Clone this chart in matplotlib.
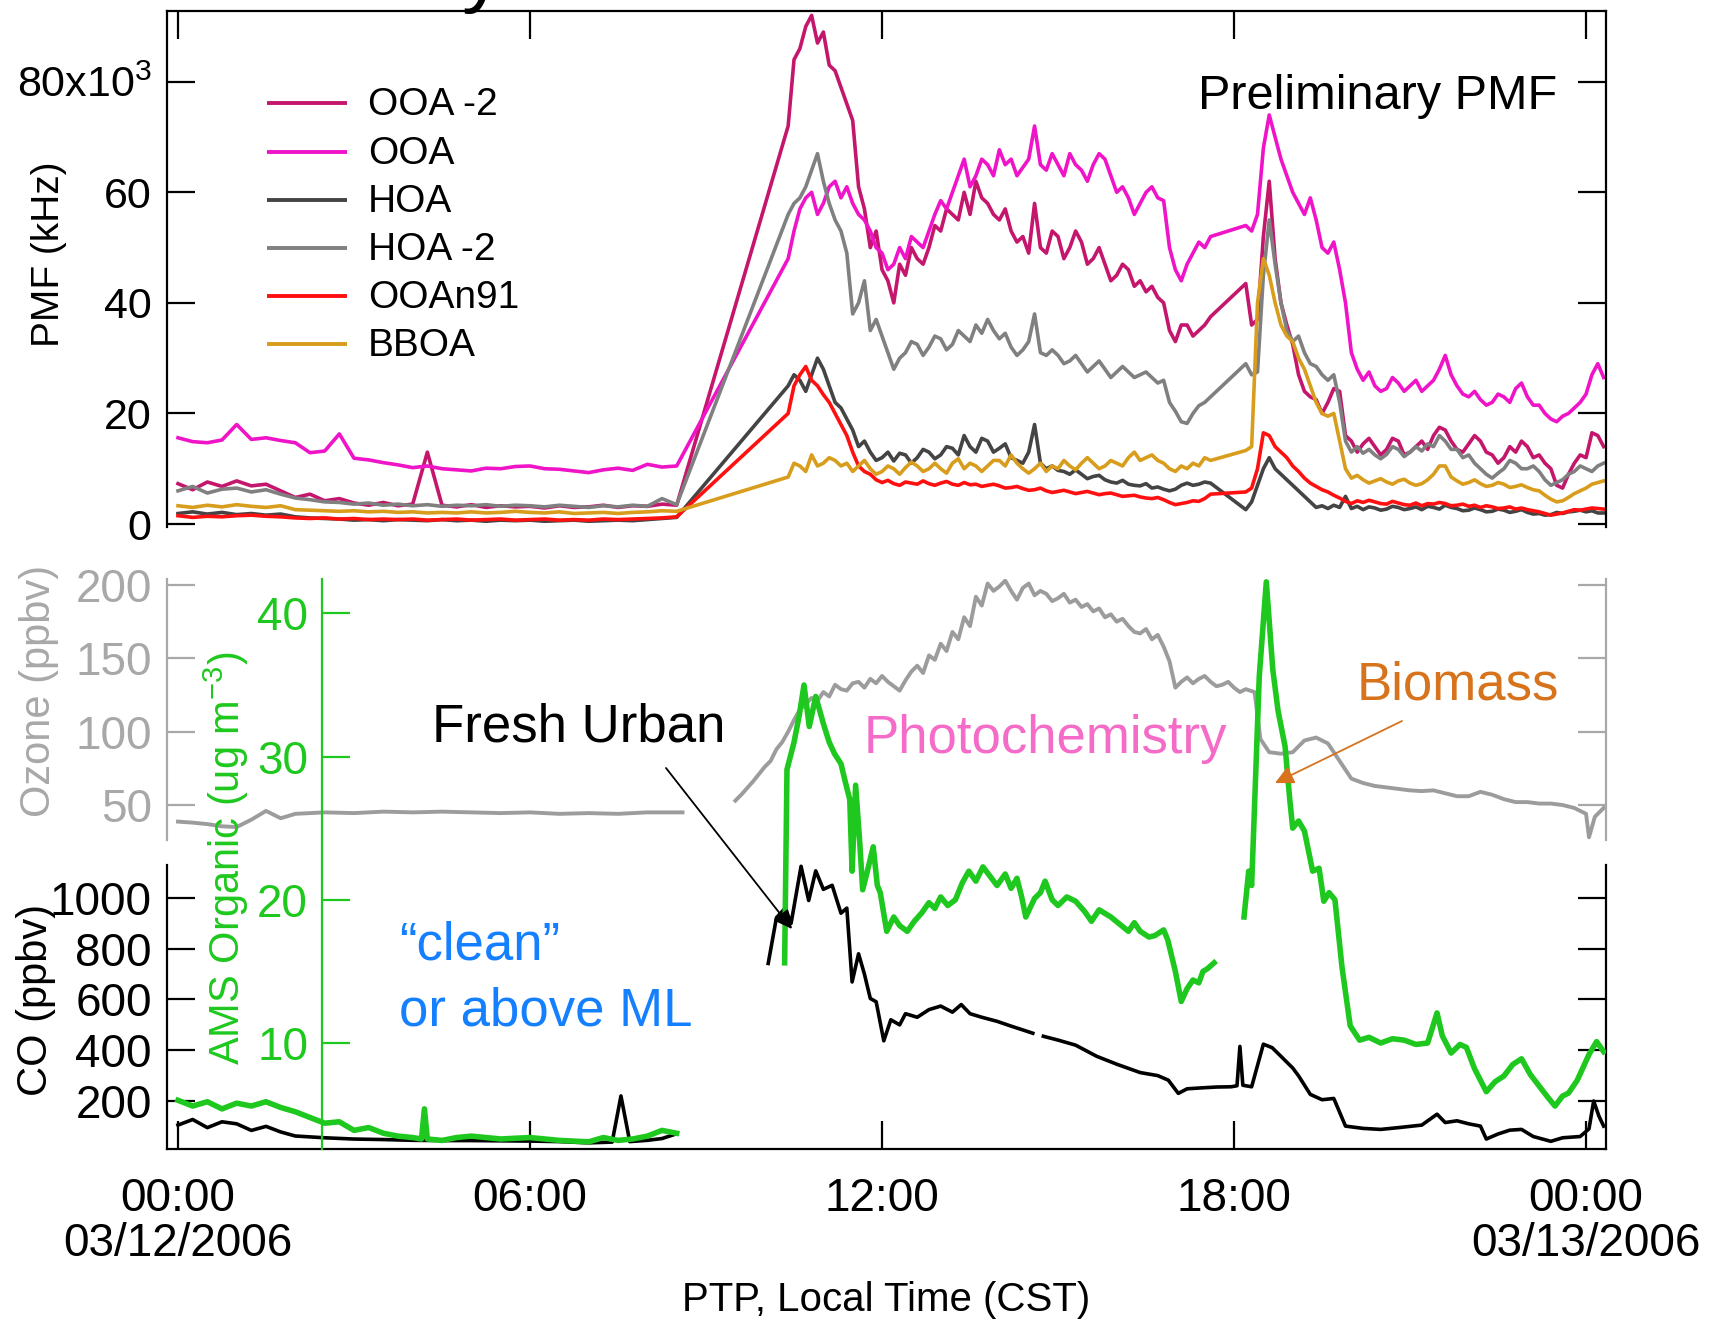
import numpy as np
import matplotlib

matplotlib.use("Agg")
import matplotlib.pyplot as plt

plt.rcParams["font.family"] = ["Liberation Sans", "DejaVu Sans"]
plt.rcParams["mathtext.default"] = "regular"

nan = np.nan
W, H = 1713, 1319  # output size in pixels (dpi 100)

# ---------------------------------------------------------------- top panel
# PMF factors (kHz, plotted in units of 10^3) on a common time grid (hours CST)
night_hr = np.round(np.arange(0.0, 8.51, 0.25), 2)
day_hr = np.round(np.r_[np.arange(10.4, 17.61, 0.1), np.arange(18.2, 24.21, 0.1), 24.3], 2)
pmf_hr = np.r_[night_hr, day_hr]

pmf_names = ["OOA -2", "OOA", "HOA", "HOA -2", "OOAn91", "BBOA"]
pmf_colors = ["#c4166c", "#f014c8", "#444444", "#808080", "#ff1010", "#d89d1c"]

ooa2_night = [7.3, 6.2, 7.6, 6.8, 7.8, 6.9, 7.2, 6.0, 4.8, 5.4, 4.2, 4.6, 3.8, 3.4, 3.9, 3.3, 3.6, 13.0,
              3.4, 3.1, 3.5, 3.0, 3.3, 3.1, 3.2, 2.9, 3.3, 3.0, 3.1, 3.4, 3.0, 3.3, 3.2, 3.6, 3.4]
ooa2_day = [72, 84, 86, 90, 92, 87, 89, 83, 82, 79, 76, 73, 61, 57, 50, 53, 46, 44, 40, 47,
            45, 50, 48, 47, 50, 54, 53, 57, 56, 55, 60, 56, 62, 59, 58, 56, 55, 57, 53, 51,
            52, 49, 58, 50, 49, 53, 52, 48, 50, 53, 51, 47, 48, 50, 47, 44, 45, 47, 46, 43,
            44, 42, 43, 41, 40, 35, 33, 36, 36, 34, 35, 36, 37.5,
            43.5, 36, 37, 52, 62, 48, 40, 36, 32.5, 27, 24, 23, 22.5, 20, 22, 24.5, 24, 16, 15, 13,
            14.5, 15.5, 14, 12.5, 13.5, 15.5, 15, 12.5, 13, 14, 15, 13.5, 16, 17.5, 17, 15, 13.5, 13,
            14.5, 16, 15, 13, 12.5, 11, 12, 14, 13, 15, 14, 12, 12.5, 11, 10, 7, 6.5, 9, 11, 12.5,
            12, 16.5, 16, 14]

ooa_night = [15.6, 14.9, 14.7, 15.2, 18.0, 15.3, 15.6, 15.1, 14.7, 12.9, 13.2, 16.3, 11.9, 11.6, 11.1,
             10.7, 10.2, 10.5, 10.0, 9.8, 9.6, 10.1, 10.0, 10.4, 10.5, 10.0, 9.9, 9.6, 9.3, 9.8, 10.1,
             9.7, 10.8, 10.3, 10.5]
ooa_day = [48, 53, 57, 59, 60, 56, 58, 61, 62, 59, 61, 58, 56, 55, 53, 50, 49, 46, 47, 50,
           48, 52, 51, 50, 53, 56, 58.5, 57, 60, 63, 66, 61, 63, 66, 65, 63, 67.7, 65, 66, 63,
           64.5, 66, 72, 65, 64, 67, 65, 63, 67, 65, 64, 62, 65, 67, 66, 63, 60, 61, 59, 56,
           58, 60, 61, 59, 58.5, 50, 46, 44, 47, 49, 51, 50, 52,
           54, 53, 56, 68, 74, 70, 66, 63, 60, 58, 56, 59, 55, 50, 49, 51, 46, 40, 31, 28,
           26, 27.5, 25, 24, 24.5, 26.5, 25.5, 24, 25, 26, 24, 25, 26, 28, 30.5, 27, 25, 23.5, 23, 24,
           22.5, 21.5, 22, 23.5, 23, 22, 24.5, 25.5, 23, 21.5, 21.5, 20, 19, 18.5, 19.5, 20, 21, 22,
           23.5, 27, 29, 26.5]

hoa_night = [1.9, 2.2, 1.8, 2.1, 1.7, 1.9, 1.6, 1.8, 1.3, 1.1, 1.0, 0.9, 0.7, 0.8, 0.6, 0.8, 0.7, 0.6,
             0.8, 0.6, 0.7, 0.5, 0.7, 0.6, 0.7, 0.5, 0.6, 0.7, 0.5, 0.6, 0.7, 0.6, 0.8, 1.0, 1.2]
hoa_day = [25, 27, 26, 24, 27, 30, 28, 25, 22, 21, 19, 17, 14, 15, 13, 11.5, 12, 13, 11.4, 12.8,
           12.5, 11, 12, 13.5, 13, 11.8, 12.5, 14, 13.7, 12.5, 16, 14, 13, 15.5, 15, 13, 13.7, 14.5, 12, 11.5,
           11, 13, 18, 11, 10, 10.5, 9.7, 9.5, 9, 9.8, 9, 8.2, 8.6, 8.8, 8, 7.6, 7.4, 7.9, 7.2, 7.0,
           6.9, 7.3, 6.5, 6.7, 6.3, 6.0, 6.3, 7.0, 7.4, 7.0, 7.2, 7.6, 7.4,
           2.6, 4, 7, 10, 12, 10, 9, 8, 7, 6, 5, 4, 3, 3.3, 2.8, 3.4, 3, 5, 2.8, 3.2,
           2.6, 3.1, 2.9, 2.5, 2.7, 3.2, 3, 2.6, 2.8, 3.1, 2.6, 3.2, 3, 2.7, 3.4, 3.0, 2.8, 2.4, 2.5, 2.9,
           2.6, 2.2, 2.3, 2.7, 2.5, 2.1, 2.3, 2.6, 2.1, 1.8, 1.9, 1.6, 1.7, 2.1, 1.9, 2.2, 2.3, 2.5,
           2.2, 2.4, 2.0, 2.0]

hoa2_night = [6.0, 6.8, 5.6, 6.3, 6.5, 5.8, 6.2, 5.4, 4.7, 4.4, 4.0, 3.9, 3.6, 3.8, 3.4, 3.6, 3.3, 3.5,
              3.2, 3.4, 3.3, 3.5, 3.2, 3.4, 3.3, 3.1, 3.4, 3.2, 3.0, 3.3, 3.1, 3.4, 3.2, 4.6, 3.5]
hoa2_day = [56, 58, 59, 61, 64, 67, 62, 58, 55, 53, 49, 38, 40, 44, 35, 37, 34, 31, 28, 30,
            31, 33, 32.5, 30.5, 32, 34, 33.5, 31.5, 32.5, 35, 34, 33, 36, 34.5, 37, 35, 33.5, 34.5, 32, 30.5,
            31.5, 33, 38, 31, 30.5, 31.5, 30.5, 29, 29.5, 30.5, 29, 27.5, 28.5, 29.5, 28, 26.5, 27.5, 28.5,
            27.5, 26.5, 27, 27.5, 26.5, 25.5, 26, 22, 20.4, 18.5, 18.2, 20, 21.4, 22, 23,
            29, 27, 27.5, 45, 55, 47, 40, 35, 33, 34, 31, 29, 28.5, 27, 26, 27, 22, 15, 13, 14,
            12.8, 13.5, 12.5, 11.8, 12.6, 14, 13.5, 12.2, 13, 14, 13.2, 14.5, 14, 16, 15, 13.5, 13.5, 12,
            12.5, 11, 10, 9, 8.3, 9.2, 10, 11.5, 11, 10, 10, 10.5, 9.5, 8, 7, 7.5, 8, 9, 9.5, 10.5,
            10, 9.5, 10.5, 11]

ooan91_night = [1.5, 1.2, 1.4, 1.3, 1.5, 1.6, 1.4, 1.3, 1.1, 1.0, 1.1, 0.9, 1.0, 0.8, 0.9, 0.8, 0.9,
                0.7, 0.8, 0.9, 0.7, 0.8, 0.9, 0.7, 0.8, 0.9, 0.7, 0.8, 0.7, 0.9, 0.8, 0.9, 1.0, 1.1, 1.3]
ooan91_day = [20, 25, 27, 28.5, 26, 25, 23.4, 22, 20, 18, 16, 13, 10.5, 9.5, 9, 8, 7.5, 7.9, 7.3, 7.0,
              7.6, 7.4, 7.2, 7.8, 7.3, 7.0, 7.4, 7.7, 7.2, 7.0, 7.5, 7.1, 7.2, 6.8, 7, 7.2, 6.9, 6.5,
              6.6, 6.8, 6.4, 6.1, 6.2, 6.5, 6, 5.7, 5.9, 6.1, 5.8, 5.5, 5.7, 5.9, 5.6, 5.3, 5.5, 5.6,
              5.3, 5.0, 5.1, 5.2, 4.9, 4.7, 4.6, 4.8, 4.4, 3.9, 3.5, 3.7, 3.9, 4.2, 4.1, 4.6, 5.4,
              5.8, 6.5, 10, 16.5, 16, 14, 13, 12, 10.5, 9.5, 8.3, 7.4, 6.8, 6.2, 5.8, 5.2, 4.7, 4.1,
              3.7, 4.2, 3.9, 4.3, 4.0, 3.7, 3.6, 4.1, 3.8, 3.5, 3.4, 3.8, 3.3, 3.7, 3.6, 3.9, 3.7, 3.3,
              3.4, 3.6, 3.2, 3.4, 3.0, 3.3, 3.1, 2.8, 2.9, 3.1, 2.7, 2.9, 2.6, 2.4, 2.2, 1.9, 1.6, 1.8,
              2.0, 2.3, 2.6, 2.5, 2.7, 2.9, 2.8, 2.7]

bboa_night = [3.3, 3.0, 3.4, 3.1, 3.5, 3.2, 3.0, 3.3, 2.6, 2.5, 2.4, 2.3, 2.4, 2.2, 2.3, 2.1, 2.2, 2.0,
              2.1, 2.0, 2.2, 2.0, 2.1, 2.3, 2.1, 2.0, 2.2, 1.9, 2.0, 2.1, 1.9, 2.1, 2.2, 2.4, 2.3]
bboa_day = [8.5, 11, 10.5, 9.5, 12.5, 10.5, 11, 12, 11.5, 10.5, 11, 9.5, 10.5, 11.5, 10, 9, 9.5, 10.5,
            10, 9, 10.2, 11.2, 10.5, 9.5, 10, 11, 10, 9.2, 11, 11.8, 10, 11, 10.5, 9.5, 10.5, 11.5,
            11.5, 10.5, 12.5, 11, 10, 9.2, 10, 11, 9.5, 10.5, 10, 11.5, 10.5, 9.8, 11, 12, 11, 10,
            10.5, 11.5, 11, 10.5, 12, 13, 11.5, 12, 12.5, 11.5, 11, 10, 9.5, 10.5, 10, 11, 10.5, 12, 11.5,
            13.3, 14, 40, 48, 45, 40, 36, 34, 33, 30, 28, 25, 22, 20, 19.5, 20, 15, 10, 8.3, 8.8,
            8, 7.4, 7.8, 8.2, 7.6, 7.2, 7.8, 8.1, 7.4, 7.0, 7.3, 8, 9, 10.5, 10.5, 8.5, 7.8, 7.2, 7.5,
            8, 7.3, 6.8, 7.0, 7.5, 7.2, 6.6, 6.8, 7.1, 6.6, 6.2, 6.0, 5.2, 4.5, 4.0, 4.2, 4.8, 5.5,
            6.0, 6.5, 7.2, 7.5, 7.8]

pmf_series = [ooa2_night + ooa2_day, ooa_night + ooa_day, hoa_night + hoa_day,
              hoa2_night + hoa2_day, ooan91_night + ooan91_day, bboa_night + bboa_day]

# ------------------------------------------------------------- bottom panel
o3_hr = np.r_[[0, 0.25, 0.5, 0.75, 1.0, 1.25, 1.5, 1.75, 2.0, 2.5, 3.0, 3.5, 4.0, 4.5, 5.0, 5.5, 6.0,
               6.5, 7.0, 7.5, 8.0, 8.6, 9.0, 9.5, 9.6, 9.8],
              np.round(np.arange(10.0, 18.21, 0.1), 2),
              [18.35, 18.45, 18.6, 18.8, 19.0, 19.2, 19.4, 19.6, 19.8, 20.0, 20.2, 20.4, 20.6, 20.8,
               21.0, 21.2, 21.4, 21.6, 21.8, 22.0, 22.2, 22.4, 22.6, 22.8, 23.0, 23.2, 23.4, 23.6, 23.8,
               24.0, 24.05, 24.15, 24.3]]
o3_ppb = [38.7, 38, 37, 35.5, 35, 40, 46, 41, 44, 45, 44.5, 45.5, 45, 45.5, 45, 44.5, 45, 44, 44.5, 44,
          45, 45, nan, 53, 57, 66,
          76, 80, 88, 93, 100, 108, 115, 119, 123, 121, 127, 124, 132, 129, 128, 133, 134, 130, 136, 133,
          138, 134, 131, 128, 135, 141, 145, 140, 152, 149, 160, 155, 168, 163, 178, 172, 192, 186, 201, 196,
          199, 203, 196, 190, 198, 201, 193, 196, 194, 189, 191, 194, 188, 190, 185, 187, 182, 184, 178, 180,
          175, 177, 172, 168, 167, 170, 163, 166, 158, 148, 130, 134, 137, 133, 136, 138, 134, 131, 132, 134,
          130, 127, 129,
          127, 95, 86, 85, 86, 94, 96, 92, 80, 68, 65, 63, 62, 61, 60, 59.5, 60, 58, 56, 56, 59, 57, 54,
          52, 52, 51, 51, 50, 48, 44, 28, 42, 48]

co_hr = [0, 0.25, 0.5, 0.75, 1.0, 1.25, 1.5, 1.75, 2.0, 2.5, 3.0, 3.5, 4.0, 4.5, 5.0, 5.5, 6.0, 6.5,
         7.0, 7.4, 7.55, 7.7, 8.0, 8.25, 8.5, 9.0,
         10.06, 10.2, 10.35, 10.45, 10.62, 10.75, 10.87, 11.0, 11.15, 11.3, 11.4, 11.49, 11.6, 11.7,
         11.8, 11.9, 12.03, 12.15, 12.3, 12.4, 12.6, 12.8, 13.0, 13.2, 13.35, 13.5, 13.7, 13.96, 14.2,
         14.4, 14.57, 14.66,
         14.75, 15.0, 15.3, 15.66, 16.0, 16.4, 16.7, 16.88, 17.05, 17.2, 17.47, 17.7, 17.95, 18.05, 18.1,
         18.15, 18.3, 18.5, 18.65, 18.8, 19.0, 19.1, 19.3, 19.5, 19.7, 19.9, 20.2, 20.5, 20.8, 21.0,
         21.2, 21.46, 21.6, 21.8, 22.0, 22.2, 22.3, 22.5, 22.7, 22.9, 23.1, 23.4, 23.6, 23.9, 24.05,
         24.13, 24.22, 24.3]
co_ppb = [105, 127, 95, 118, 110, 84, 100, 78, 62, 55, 50, 48, 45, 44, 44, 43, 42, 40, 35, 38, 220, 40,
          45, 52, 71, nan,
          742, 922, 960, 900, 1125, 990, 1107, 1034, 1050, 940, 960, 669, 780, 700, 604, 591, 437, 520,
          500, 544, 530, 560, 574, 550, 580, 544, 530, 514, 495, 480, 467, nan,
          455, 440, 420, 376, 345, 312, 300, 282, 230, 248, 252, 255, 256, 260, 415, 262, 256, 424, 410,
          376, 330, 299, 226, 205, 210, 101, 92, 88, 95, 100, 105, 148, 115, 122, 110, 101, 50, 70, 85,
          88, 60, 41, 55, 60, 90, 200, 140, 101]

org_hr = [0, 0.25, 0.5, 0.75, 1.0, 1.25, 1.5, 1.75, 2.0, 2.25, 2.5, 2.75, 3.0, 3.25, 3.5, 3.75, 4.0,
          4.15, 4.2, 4.25, 4.5, 4.75, 5.0, 5.5, 6.0, 6.5, 7.0, 7.25, 7.5, 7.75, 8.0, 8.25, 8.5, 9.0,
          10.34, 10.38, 10.5, 10.59, 10.67, 10.76, 10.87, 11.0, 11.1, 11.19, 11.3, 11.37, 11.45, 11.49,
          11.55, 11.62, 11.67, 11.75, 11.85, 11.92, 11.97, 12.08, 12.2, 12.3, 12.43, 12.55, 12.68, 12.8,
          12.9, 13.0, 13.12, 13.25, 13.37, 13.48, 13.6, 13.72, 13.85, 13.96, 14.1, 14.2, 14.3, 14.38,
          14.45, 14.6, 14.7, 14.78, 14.9, 15.0, 15.15, 15.3, 15.45, 15.57, 15.7, 15.9, 16.05, 16.2, 16.3,
          16.4, 16.55, 16.65, 16.8, 16.87, 17.0, 17.1, 17.2, 17.3, 17.4, 17.47, 17.55, 17.66, 17.9,
          18.17, 18.25, 18.3, 18.43, 18.55, 18.66, 18.75, 18.87, 18.95, 19.0, 19.1, 19.2, 19.34, 19.45,
          19.53, 19.62, 19.72, 19.84, 19.98, 20.14, 20.3, 20.5, 20.7, 20.9, 21.1, 21.3, 21.46, 21.55,
          21.7, 21.85, 21.96, 22.1, 22.3, 22.45, 22.6, 22.75, 22.9, 23.05, 23.2, 23.35, 23.47, 23.6,
          23.7, 23.85, 23.95, 24.05, 24.18, 24.3]
org_ug = [6.0, 5.6, 5.9, 5.4, 5.8, 5.6, 5.9, 5.5, 5.2, 4.8, 4.4, 4.5, 3.9, 4.1, 3.7, 3.5, 3.4, 3.3, 5.4,
          3.3, 3.2, 3.4, 3.5, 3.3, 3.4, 3.2, 3.1, 3.4, 3.2, 3.3, 3.5, 3.9, 3.7, nan,
          15.6, 29.1, 31, 32.9, 35, 32.1, 34.2, 32.3, 31, 30.2, 29.5, 28.3, 27, 22, 28, 24, 20.7, 22,
          23.7, 21, 20.5, 17.8, 18.8, 18.2, 17.8, 18.5, 19.1, 19.8, 19.4, 20.2, 19.6, 20, 21.2, 22, 21.3,
          22.3, 21.6, 21, 21.8, 20.8, 21.5, 20.2, 18.8, 20.1, 20.5, 21.3, 20.0, 19.6, 20.2, 19.9, 19.2,
          18.5, 19.3, 18.8, 18.3, 17.8, 18.4, 17.8, 17.4, 17.5, 17.9, 17.2, 15, 12.9, 13.8, 14.4, 14.2,
          15, 15.2, 15.6, nan,
          18.8, 22, 21, 35.6, 42.2, 36.1, 33.2, 30.7, 27, 25, 25.5, 24.8, 22, 22.2, 19.9, 20.5, 20, 15.3,
          11.2, 10.2, 10.4, 10, 10.3, 10.2, 9.9, 10, 12.1, 10.5, 9.3, 9.9, 9.7, 8.2, 6.6, 7.3, 7.7, 8.5,
          8.9, 7.8, 7, 6.2, 5.6, 6.3, 6.5, 7.4, 8.3, 9.2, 10.1, 9.4]

hour_ticks = [0, 6, 12, 18, 24]
hour_labels = ["00:00\n03/12/2006", "06:00", "12:00", "18:00", "00:00\n03/13/2006"]

GRAY = "#9c9c9c"
GREEN = "#1ec81e"
XLIM = (-0.1875, 24.34)
X0, X1 = 167, 1606  # axes left/right in pixels


def fx(px):
    return px / W


def fy(py):
    return 1 - py / H


fig = plt.figure(figsize=(W / 100, H / 100), dpi=100)

# ---- top: PMF factors
ax = fig.add_axes([fx(X0), fy(527), (X1 - X0) / W, (527 - 11) / H])
for vals, col in zip(pmf_series, pmf_colors):
    ax.plot(pmf_hr, vals, color=col, lw=2.6, solid_joinstyle="round")
ax.set_xlim(*XLIM)
ax.set_ylim(-0.54, 92.8)
ax.spines["bottom"].set_visible(False)
for s in ("left", "right", "top"):
    ax.spines[s].set_linewidth(1.6)
ax.set_xticks(hour_ticks)
ax.tick_params(axis="x", bottom=False, top=True, labelbottom=False, labeltop=False,
               direction="in", length=20, width=1.6)
ax.yaxis.set_ticks_position("both")
ax.set_yticks([0, 20, 40, 60, 80])
ax.set_yticklabels(["0", "20", "40", "60", "80x$10^{3}$"])
ax.tick_params(axis="y", direction="in", length=20, width=1.6, labelsize=31, pad=11)

# legend drawn as in the Igor original: short line + label
leg_y = [103, 152, 200, 248, 296, 344]
for name, col, py in zip(pmf_names, pmf_colors, leg_y):
    yy = (527 - py) / (527 - 11)
    ax.plot([(267 - X0) / (X1 - X0), (347 - X0) / (X1 - X0)], [yy, yy], transform=ax.transAxes,
            color=col, lw=2.8, solid_capstyle="butt")
    ax.text((368 - X0) / (X1 - X0), yy - 0.004, name, transform=ax.transAxes, fontsize=28,
            va="center", ha="left")

# ---- bottom: ozone, CO and AMS organics on stacked y axes
axo = fig.add_axes([fx(X0), fy(1149), (X1 - X0) / W, (1149 - 579) / H])
axc = axo.twinx()
axg = axo.twinx()

axo.plot(o3_hr, o3_ppb, color=GRAY, lw=2.8)
axc.plot(co_hr, co_ppb, color="black", lw=2.6)
axg.plot(org_hr, org_ug, color=GREEN, lw=4.0)

axo.set_xlim(*XLIM)
axo.set_ylim(-184.5, 204.1)
axc.set_ylim(10.8, 2257)
axg.set_ylim(2.6, 42.4)

axo.spines["top"].set_visible(False)
axo.spines["bottom"].set_linewidth(1.6)
for s in ("left", "right"):
    axo.spines[s].set_bounds(26, 204)
    axo.spines[s].set_color("#a8a8a8")
    axo.spines[s].set_linewidth(1.6)
axo.yaxis.set_ticks_position("both")
axo.set_yticks([50, 100, 150, 200])
axo.tick_params(axis="y", direction="in", length=20, width=1.6, colors="#a8a8a8",
                labelsize=33, pad=11)
axo.set_xticks(hour_ticks)
axo.set_xticklabels(hour_labels)
axo.tick_params(axis="x", direction="in", length=20, width=1.6, labelsize=33, pad=20)
for lbl in axo.get_xticklabels():
    lbl.set_linespacing(1.05)

for s in ("top", "bottom"):
    axc.spines[s].set_visible(False)
for s in ("left", "right"):
    axc.spines[s].set_bounds(10.8, 1130)
    axc.spines[s].set_linewidth(1.6)
axc.yaxis.set_ticks_position("both")
axc.set_yticks([200, 400, 600, 800, 1000])
axc.tick_params(axis="y", direction="in", length=20, width=1.6, labelsize=33, pad=11,
                labelleft=True, labelright=False)

for s in ("top", "bottom", "right"):
    axg.spines[s].set_visible(False)
axg.spines["left"].set_position(("axes", (322 - X0) / (X1 - X0)))
axg.spines["left"].set_color(GREEN)
axg.spines["left"].set_linewidth(1.6)
axg.yaxis.set_ticks_position("left")
axg.set_yticks([10, 20, 30, 40])
axg.tick_params(axis="y", direction="in", length=20, width=1.6, colors=GREEN, labelsize=33,
                pad=10, labelleft=True, labelright=False)

# ---- axis titles
fig.text(fx(49), fy(254), "PMF (kHz)", rotation=90, fontsize=28, ha="center", va="center")
fig.text(fx(39), fy(691), "Ozone (ppbv)", rotation=90, fontsize=30, color="#a8a8a8",
         ha="center", va="center")
fig.text(fx(36), fy(1000), "CO (ppbv)", rotation=90, fontsize=30, ha="center", va="center")
fig.text(fx(226), fy(858), "AMS Organic (ug m$^{-3}$)", rotation=90, fontsize=30, color=GREEN,
         ha="center", va="center")
fig.text(fx(886), fy(1311), "PTP, Local Time (CST)", fontsize=29, ha="center", va="baseline")

# ---- annotations
fig.text(fx(1198), fy(109), "Preliminary PMF", fontsize=35, va="baseline")
fig.text(fx(432), fy(741), "Fresh Urban", fontsize=38, va="baseline")
fig.text(fx(864), fy(753), "Photochemistry", fontsize=38, color="#f46cc8", va="baseline")
fig.text(fx(1357), fy(700), "Biomass", fontsize=38, color="#d6731c", va="baseline")
fig.text(fx(399), fy(960), "\u201cclean\u201d", fontsize=38, color="#1580ff", va="baseline")
fig.text(fx(399), fy(1025), "or above ML", fontsize=38, color="#1580ff", va="baseline")
axg.annotate("", xy=(fx(792), fy(929)), xytext=(fx(666), fy(768)), xycoords="figure fraction",
             arrowprops=dict(arrowstyle="-|>", color="black", lw=1.3, mutation_scale=28,
                             shrinkA=0, shrinkB=0))
axg.annotate("", xy=(fx(1275), fy(783)), xytext=(fx(1402), fy(721)), xycoords="figure fraction",
             arrowprops=dict(arrowstyle="-|>", color="#d6731c", lw=1.3, mutation_scale=28,
                             shrinkA=0, shrinkB=0))

# tail of the slide title that was cropped off above the graph
fig.text(fx(462), fy(-3), "y", fontsize=60, va="baseline")

fig.savefig("out.png", dpi=100)
